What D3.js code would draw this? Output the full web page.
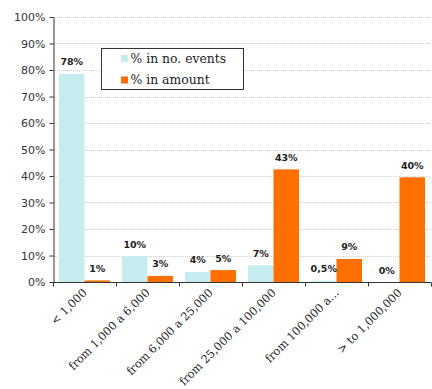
<!DOCTYPE html>
<html>
<head>
<meta charset="utf-8">
<script src="https://cdn.jsdelivr.net/npm/d3@7"></script>
<style>
  body { margin: 0; background: #fff; }
</style>
</head>
<body>
<div id="container"></div>
<script>
// data
var categories = ["< 1,000", "from 1,000 a 6,000", "from 6,000 a 25,000",
  "from 25,000 a 100,000", "from 100,000 a...", "> to 1,000,000"];
var events = [78.5, 9.8, 3.8, 6.3, 0.5, 0];
var amount = [0.6, 2.3, 4.5, 42.5, 8.7, 39.5];
var eventLabels = ["78%", "10%", "4%", "7%", "0,5%", "0%"];
var amountLabels = ["1%", "3%", "5%", "43%", "9%", "40%"];
var seriesNames = ["% in no. events", "% in amount"];
var yTicks = [0, 10, 20, 30, 40, 50, 60, 70, 80, 90, 100];

var width = 432, height = 389;
var plotLeft = 53, plotRight = 431, plotTop = 17, plotBottom = 282;
var colors = ["#c5edf0", "#ff6f00"];

var svg = d3.select("#container").append("svg")
  .attr("width", width)
  .attr("height", height);

var x = d3.scaleBand().domain(categories).range([plotLeft, plotRight]);
var xs = d3.scaleBand().domain([0, 1]).range([6, x.bandwidth() - 6]);
var y = d3.scaleLinear().domain([0, 100]).range([plotBottom, plotTop]);

// grid
svg.append("g").selectAll("line")
  .data(yTicks.filter(function(d) { return d > 0; }))
  .enter().append("line")
  .attr("x1", plotLeft).attr("x2", plotRight)
  .attr("y1", function(d) { return Math.round(y(d)) + 0.5; })
  .attr("y2", function(d) { return Math.round(y(d)) + 0.5; })
  .attr("stroke", "#d0d0d0")
  .attr("stroke-dasharray", "1,1");

var rows = categories.map(function(c, i) {
  return { cat: c, vals: [events[i], amount[i]], labels: [eventLabels[i], amountLabels[i]] };
});

var group = svg.selectAll("g.cat")
  .data(rows).enter().append("g")
  .attr("class", "cat")
  .attr("transform", function(d) { return "translate(" + x(d.cat) + ",0)"; });

group.selectAll("rect")
  .data(function(d) { return d.vals; })
  .enter().append("rect")
  .attr("x", function(d, i) { return xs(i); })
  .attr("width", xs.bandwidth())
  .attr("y", function(d) { return y(d); })
  .attr("height", function(d) { return plotBottom - y(d); })
  .attr("fill", function(d, i) { return colors[i]; });

group.selectAll("text")
  .data(function(d) { return d.labels.map(function(l, i) { return { l: l, v: d.vals[i] }; }); })
  .enter().append("text")
  .attr("x", function(d, i) { return xs(i) + xs.bandwidth() / 2; })
  .attr("y", function(d) { return y(d.v) - 8.5; })
  .attr("text-anchor", "middle")
  .style("font-family", "DejaVu Sans")
  .style("font-size", "9.5px")
  .style("font-weight", "bold")
  .style("fill", "#222")
  .text(function(d) { return d.l; });

// y axis
var yAxis = svg.append("g")
  .attr("transform", "translate(" + (plotLeft + 0.5) + ",0)")
  .call(d3.axisLeft(y).tickValues(yTicks).tickSize(4).tickSizeOuter(0)
    .tickFormat(function(d) { return d + "%"; }));
yAxis.selectAll("path, line").attr("stroke", "#333");
yAxis.selectAll("text")
  .style("font-family", "DejaVu Sans")
  .style("font-size", "11px")
  .style("fill", "#333")
  .attr("x", -8);

// x axis
var xAxis = svg.append("g")
  .attr("transform", "translate(0," + (plotBottom + 0.5) + ")");
xAxis.append("line")
  .attr("x1", plotLeft).attr("x2", plotRight)
  .attr("stroke", "#333");
xAxis.selectAll("line.tk")
  .data(categories.concat(["end"]))
  .enter().append("line")
  .attr("class", "tk")
  .attr("x1", function(d, i) { return Math.round(plotLeft + i * x.bandwidth()) + 0.5; })
  .attr("x2", function(d, i) { return Math.round(plotLeft + i * x.bandwidth()) + 0.5; })
  .attr("y1", 0).attr("y2", 4)
  .attr("stroke", "#333");
xAxis.selectAll("text")
  .data(categories)
  .enter().append("text")
  .attr("transform", function(d) {
    return "translate(" + (x(d) + x.bandwidth() / 2 + 3) + ",11) rotate(-45)";
  })
  .attr("text-anchor", "end")
  .style("font-family", "DejaVu Serif")
  .style("font-size", "11.3px")
  .style("fill", "#222")
  .text(function(d) { return d; });

// legend
var legend = svg.append("g").attr("transform", "translate(101.5,48.5)");
legend.append("rect")
  .attr("width", 142).attr("height", 41)
  .attr("fill", "#fff").attr("stroke", "#333");
seriesNames.forEach(function(s, i) {
  legend.append("rect")
    .attr("x", 19.5).attr("y", 6.5 + i * 21.5)
    .attr("width", 7).attr("height", 7)
    .attr("fill", colors[i]);
  legend.append("text")
    .attr("x", 29).attr("y", 14 + i * 21.5)
    .style("font-family", "DejaVu Serif")
    .style("font-size", "12.4px")
    .style("fill", "#222")
    .text(s);
});
</script>
</body>
</html>
